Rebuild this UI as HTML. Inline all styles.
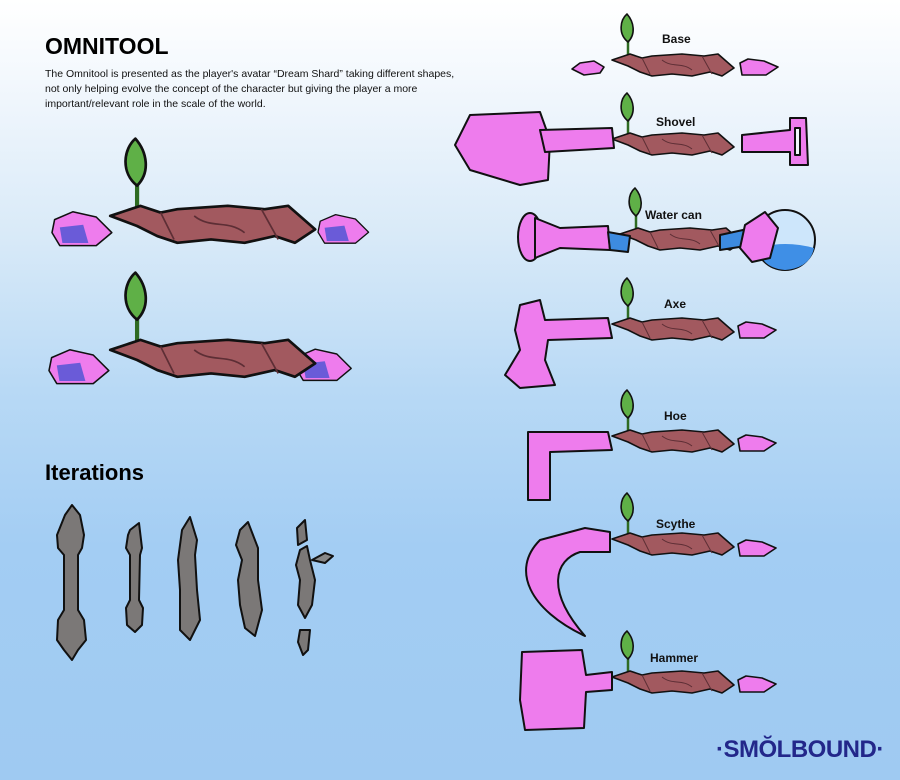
<!DOCTYPE html>
<html><head><meta charset="utf-8"><style>
html,body{margin:0;padding:0}
body{width:900px;height:780px;overflow:hidden;position:relative;font-family:"Liberation Sans",sans-serif;
background:linear-gradient(180deg,#ffffff 0%,#f3f8fd 10%,#d9eaf8 30%,#b8d9f5 50%,#a3cdf3 70%,#9fcaf2 100%);}
h1{position:absolute;left:45px;top:33px;margin:0;font:900 23px "Liberation Sans",sans-serif;color:#000}
p{position:absolute;left:45px;top:67px;margin:0;font:10.5px/15px "Liberation Sans",sans-serif;color:#111;width:412px}
h2{position:absolute;left:45px;top:460px;margin:0;font:900 22px "Liberation Sans",sans-serif;color:#000}
svg{position:absolute;left:0;top:0}
.lbl{font:bold 12px "Liberation Sans",sans-serif;fill:#111}
.logo{position:absolute;left:716px;top:736px;font:900 24px "Liberation Sans",sans-serif;color:#23278a;letter-spacing:-0.5px}
</style></head><body>
<h1>OMNITOOL</h1>
<p>The Omnitool is presented as the player's avatar “Dream Shard” taking different shapes, not only helping evolve the concept of the character but giving the player a more important/relevant role in the scale of the world.</p>
<h2>Iterations</h2>
<svg width="900" height="780" viewBox="0 0 900 780">
<defs>
<g id="shaft" stroke="#111" stroke-width="1.6" stroke-linejoin="round">
<line x1="-44" y1="-10" x2="-44" y2="-26" stroke="#2e6b22" stroke-width="2.5"/>
<path d="M-44,-24 C-54,-32 -52,-46 -45,-52 C-38,-44 -36,-32 -44,-24Z" fill="#5fb047"/>
<path d="M-60,-6 L-42,-12 L-30,-8 L-20,-10 L10,-12 L32,-10 L46,-12 L62,2 L50,10 L38,6 L20,10 L0,8 L-20,10 L-32,6 L-44,0Z" fill="#a2595f"/>
<path d="M-30,-8 L-22,8 M30,-10 L40,8 M-10,-6 C0,2 10,-4 20,4" fill="none" stroke="#5d2e35" stroke-width="1"/>
</g>
<path id="crL" d="M-18,0 L-10,-6 L4,-8 L14,-2 L10,4 L-6,6Z" fill="#ee7ced" stroke="#111" stroke-width="1.6" stroke-linejoin="round"/>
<path id="crR" d="M-18,-4 L-10,-8 L6,-6 L20,0 L8,8 L-16,8Z" fill="#ee7ced" stroke="#111" stroke-width="1.6" stroke-linejoin="round"/>
<g id="bigcrR" stroke="#111" stroke-width="1.2" stroke-linejoin="round">
<path d="M-18,-8 L-4,-14 L14,-10 L26,2 L14,12 L-14,12 L-20,2Z" fill="#ee7ced"/>
<path d="M-14,-2 L4,-4 L8,10 L-12,10Z" fill="#6a5bd8" stroke="none"/>
</g>
</defs>

<g transform="translate(78,230) scale(1.3)"><use href="#bigcrR"/></g>
<g transform="translate(340,230) scale(1.1)"><use href="#bigcrR"/></g>
<g transform="translate(211,226) scale(1.68)"><use href="#shaft"/></g>
<g transform="translate(75,368) scale(1.3)"><use href="#bigcrR"/></g>
<g transform="translate(320,366) scale(1.2)"><use href="#bigcrR"/></g>
<g transform="translate(211,360) scale(1.68)"><use href="#shaft"/></g>

<g transform="translate(672,66)"><use href="#shaft"/></g>
<g transform="translate(672,145)"><use href="#shaft"/></g>
<g transform="translate(680,240)"><use href="#shaft"/></g>
<g transform="translate(672,330)"><use href="#shaft"/></g>
<g transform="translate(672,442)"><use href="#shaft"/></g>
<g transform="translate(672,545)"><use href="#shaft"/></g>
<g transform="translate(672,683)"><use href="#shaft"/></g>

<text class="lbl" x="662" y="43">Base</text>
<text class="lbl" x="656" y="126">Shovel</text>
<text class="lbl" x="645" y="219">Water can</text>
<text class="lbl" x="664" y="308">Axe</text>
<text class="lbl" x="664" y="420">Hoe</text>
<text class="lbl" x="656" y="528">Scythe</text>
<text class="lbl" x="650" y="662">Hammer</text>

<g stroke="#111" stroke-width="2" stroke-linejoin="round" fill="#ee7ced">
<use href="#crL" x="590" y="69"/><use href="#crR" x="758" y="67"/>
<path d="M470,115 L540,112 L550,140 L548,180 L520,185 L470,170 L455,145Z"/>
<path d="M540,130 L612,128 L614,148 L545,152Z"/>
<path d="M742,135 L790,130 L790,118 L806,118 L808,165 L790,165 L790,152 L742,152Z"/>
<path d="M795,128 L800,128 L800,155 L795,155Z" fill="#f4f8fd"/>
<ellipse cx="530" cy="237" rx="12" ry="24"/>
<path d="M535,218 L560,228 L608,226 L610,250 L560,248 L535,258Z"/>
<path d="M608,232 L630,236 L628,252 L610,250Z" fill="#3d8be0"/>
<path d="M720,235 L752,228 L752,245 L720,250Z" fill="#3d8be0"/>
<circle cx="785" cy="240" r="30" fill="#cde6fb"/>
<path d="M758,248 Q785,240 814,248 Q810,268 785,270 Q762,268 758,248Z" fill="#3f8fe6" stroke="none"/>
<path d="M745,225 L765,212 L778,228 L770,258 L752,262 L740,248Z"/>
<path d="M520,305 L540,300 L545,320 L608,318 L612,338 L548,340 L545,360 L555,385 L520,388 L505,375 L520,350 L515,330Z"/>
<use href="#crR" x="756" y="330"/>
<path d="M528,432 L608,432 L612,450 L550,452 L550,500 L528,500Z"/>
<use href="#crR" x="756" y="443"/>
<path d="M585,528 L610,532 L610,552 L580,552 C555,560 545,590 585,636 C530,610 510,570 540,540Z"/>
<use href="#crR" x="756" y="548"/>
<path d="M522,652 L582,650 L586,675 L612,672 L612,690 L586,692 L584,728 L525,730 L520,700Z"/>
<use href="#crR" x="756" y="684"/>
</g>

<g stroke="#111" stroke-width="2" stroke-linejoin="round" fill="#7b7877">
<path d="M65,515 L72,505 L80,515 L84,535 L82,548 L78,555 L78,610 L84,620 L86,640 L78,650 L72,660 L64,650 L57,640 L58,620 L64,610 L64,555 L58,548 L57,535Z"/>
<path d="M130,530 L139,523 L142,548 L140,555 L139,600 L143,608 L142,625 L135,632 L127,625 L126,608 L130,600 L130,555 L126,548 L128,535Z"/>
<path d="M182,530 L190,517 L197,540 L195,555 L197,590 L200,620 L190,640 L180,630 L180,590 L178,560 L180,545Z"/>
<path d="M240,530 L248,522 L258,548 L258,580 L262,610 L255,636 L245,628 L240,605 L238,580 L242,560 L236,545Z"/>
<path d="M297,528 L305,520 L307,540 L298,545Z"/>
<path d="M300,550 L307,546 L310,560 L315,580 L312,605 L305,618 L298,605 L300,580 L296,565Z"/>
<path d="M300,630 L310,630 L308,650 L303,655 L298,642Z"/>
<path d="M312,560 L325,553 L333,556 L325,563Z" fill="#888"/>
</g>
</svg>
<div class="logo">·SMŎLBOUND·</div>
</body></html>
